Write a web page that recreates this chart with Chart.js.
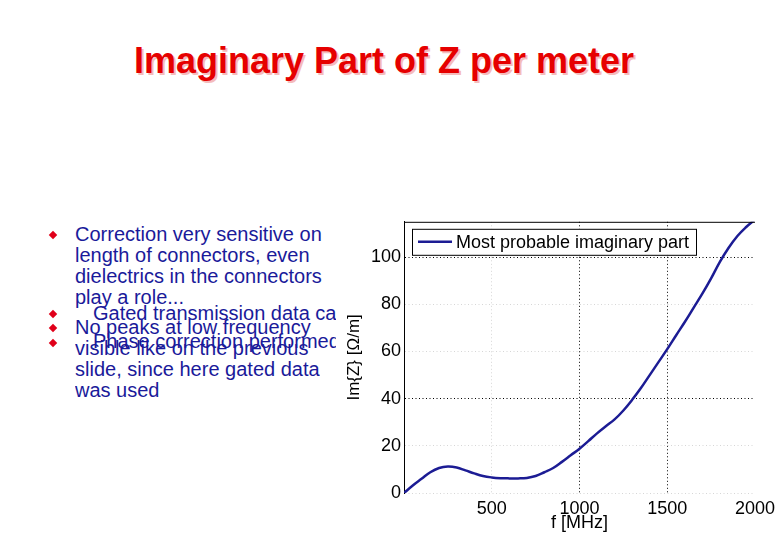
<!DOCTYPE html>
<html>
<head>
<meta charset="utf-8">
<script src="https://cdn.jsdelivr.net/npm/chart.js@4/dist/chart.umd.min.js"></script>
<style>
body { margin: 0; width: 780px; height: 540px; background: #fff; position: relative; overflow: hidden; font-family: "Liberation Sans", Arial, sans-serif; }
#title { position: absolute; left: -6px; width: 780px; top: 40px; text-align: center; font-weight: bold; font-size: 36px; line-height: 42px; color: #e60000; text-shadow: 2px 2px 0 #f4bcbc; }
.txt { position: absolute; font-size: 20px; line-height: 21px; color: #1a1a9a; white-space: nowrap; overflow: hidden; }
.bul { position: absolute; width: 6px; height: 6px; background: #e0001a; transform: rotate(45deg); }
#wrap { position: absolute; left: 340px; top: 208px; width: 440px; height: 332px; }
</style>
</head>
<body>
<div id="title">Imaginary Part of Z per meter</div>

<div class="bul" style="left:50px; top:232px"></div>
<div class="bul" style="left:50px; top:311px"></div>
<div class="bul" style="left:50px; top:325px"></div>
<div class="bul" style="left:50px; top:340px"></div>

<div class="txt" style="left:75px; top:224px">Correction very sensitive on<br>length of connectors, even<br>dielectrics in the connectors<br>play a role...</div>
<div class="txt" style="left:75px; top:317px">No peaks at low frequency<br>visible like on the previous<br>slide, since here gated data<br>was used</div>
<div class="txt" style="left:93px; top:303px; width:243px">Gated transmission data can</div>
<div class="txt" style="left:93px; top:331px; width:243px">Phase correction performed</div>

<div id="wrap"><canvas id="chart"></canvas></div>

<script>
// frequency [MHz] and Im{Z} [Ohm/m]
const freqs = [0, 50, 100, 150, 200, 250, 300, 350, 400, 450, 500, 550, 600, 650, 700, 750, 800, 850, 900, 950,
    1000, 1050, 1100, 1150, 1200, 1250, 1300, 1350, 1400, 1450, 1500, 1550, 1600, 1650, 1700, 1750, 1800, 1850, 1900, 1950, 2000];
const imagZ = [0, 3.2, 6, 8.8, 10.6, 11.2, 10.8, 9.6, 8.3, 7.2, 6.6, 6.3, 6.2, 6.2, 6.4, 7.2, 8.8, 10.6, 13.2, 16,
    18.8, 22, 25.3, 28.3, 31.2, 35, 39.5, 44.5, 50, 55.5, 61, 66.8, 72.5, 78.5, 84.5, 91, 98, 104, 109, 112.8, 116];
const xTicks = [500, 1000, 1500, 2000];
const yTicks = [0, 20, 40, 60, 80, 100];
const seriesName = "Most probable imaginary part";

const darkX = [1000, 1500];
const darkY = [40, 100];

// legend box drawn inside the plot, top-left
const insideLegend = {
    id: "insideLegend",
    afterDraw(chart) {
        const ctx = chart.ctx;
        const a = chart.chartArea;
        const ds = chart.data.datasets[0];
        // top frame line
        ctx.save();
        ctx.strokeStyle = "#000";
        ctx.lineWidth = 1;
        ctx.beginPath();
        ctx.moveTo(a.left, a.top + 0.5);
        ctx.lineTo(a.right, a.top + 0.5);
        ctx.stroke();

        const x = a.left + 8, y = a.top + 7, w = 284, h = 26;
        ctx.fillStyle = "#fff";
        ctx.fillRect(x, y, w, h);
        ctx.strokeRect(x + 0.5, y + 0.5, w, h);
        ctx.strokeStyle = ds.borderColor;
        ctx.lineWidth = 2.5;
        ctx.beginPath();
        ctx.moveTo(x + 6, y + h / 2);
        ctx.lineTo(x + 40, y + h / 2);
        ctx.stroke();
        ctx.fillStyle = "#000";
        ctx.font = '18px "Liberation Sans", Arial, sans-serif';
        ctx.textBaseline = "middle";
        ctx.fillText(ds.label, x + 44, y + h / 2 + 1);
        ctx.restore();
    }
};

new Chart(document.getElementById("chart"), {
    type: "line",
    data: {
        datasets: [{
            label: seriesName,
            data: freqs.map((f, i) => ({ x: f, y: imagZ[i] })),
            borderColor: "#1c1c94",
            borderWidth: 2.5,
            pointRadius: 0,
            tension: 0.4,
            fill: false
        }]
    },
    options: {
        animation: false,
        responsive: true,
        maintainAspectRatio: false,
        layout: { padding: { left: 0, right: 22, top: 0, bottom: 0 } },
        plugins: {
            legend: { display: false },
            tooltip: { enabled: false }
        },
        scales: {
            x: {
                type: "linear",
                min: 0,
                max: 2000,
                afterBuildTicks: s => { s.ticks = xTicks.map(v => ({ value: v })); },
                afterFit: s => { s.height = 47; },
                ticks: { color: "#000", padding: 5, font: { size: 18, family: '"Liberation Sans", Arial' }, callback: v => String(v) },
                grid: {
                    drawTicks: false,
                    color: c => c.tick && darkX.includes(c.tick.value) ? "#000" : (c.tick && c.tick.value === 2000 ? "rgba(0,0,0,0)" : "#d6d6d6")
                },
                border: { display: false, dash: [1, 2.5] },
                title: { display: true, text: "f [MHz]", color: "#000", font: { size: 18, family: '"Liberation Sans", Arial' }, padding: { top: 0, bottom: 6 } }
            },
            y: {
                min: 0,
                max: 115,
                afterBuildTicks: s => { s.ticks = yTicks.map(v => ({ value: v })); },
                afterFit: s => { s.width = 64; },
                ticks: { color: "#000", padding: 3, font: { size: 18, family: '"Liberation Sans", Arial' } },
                grid: {
                    drawTicks: false,
                    color: c => c.tick && darkY.includes(c.tick.value) ? "#000" : "#d6d6d6"
                },
                border: { display: true, color: "#000", width: 1, dash: [1, 2.5] },
                title: { display: true, text: "Im{Z} [\u03A9/m]", color: "#000", font: { size: 17, family: '"Liberation Sans", Arial' }, padding: { top: 4, bottom: 0 } }
            }
        }
    },
    plugins: [insideLegend]
});
</script>
</body>
</html>
